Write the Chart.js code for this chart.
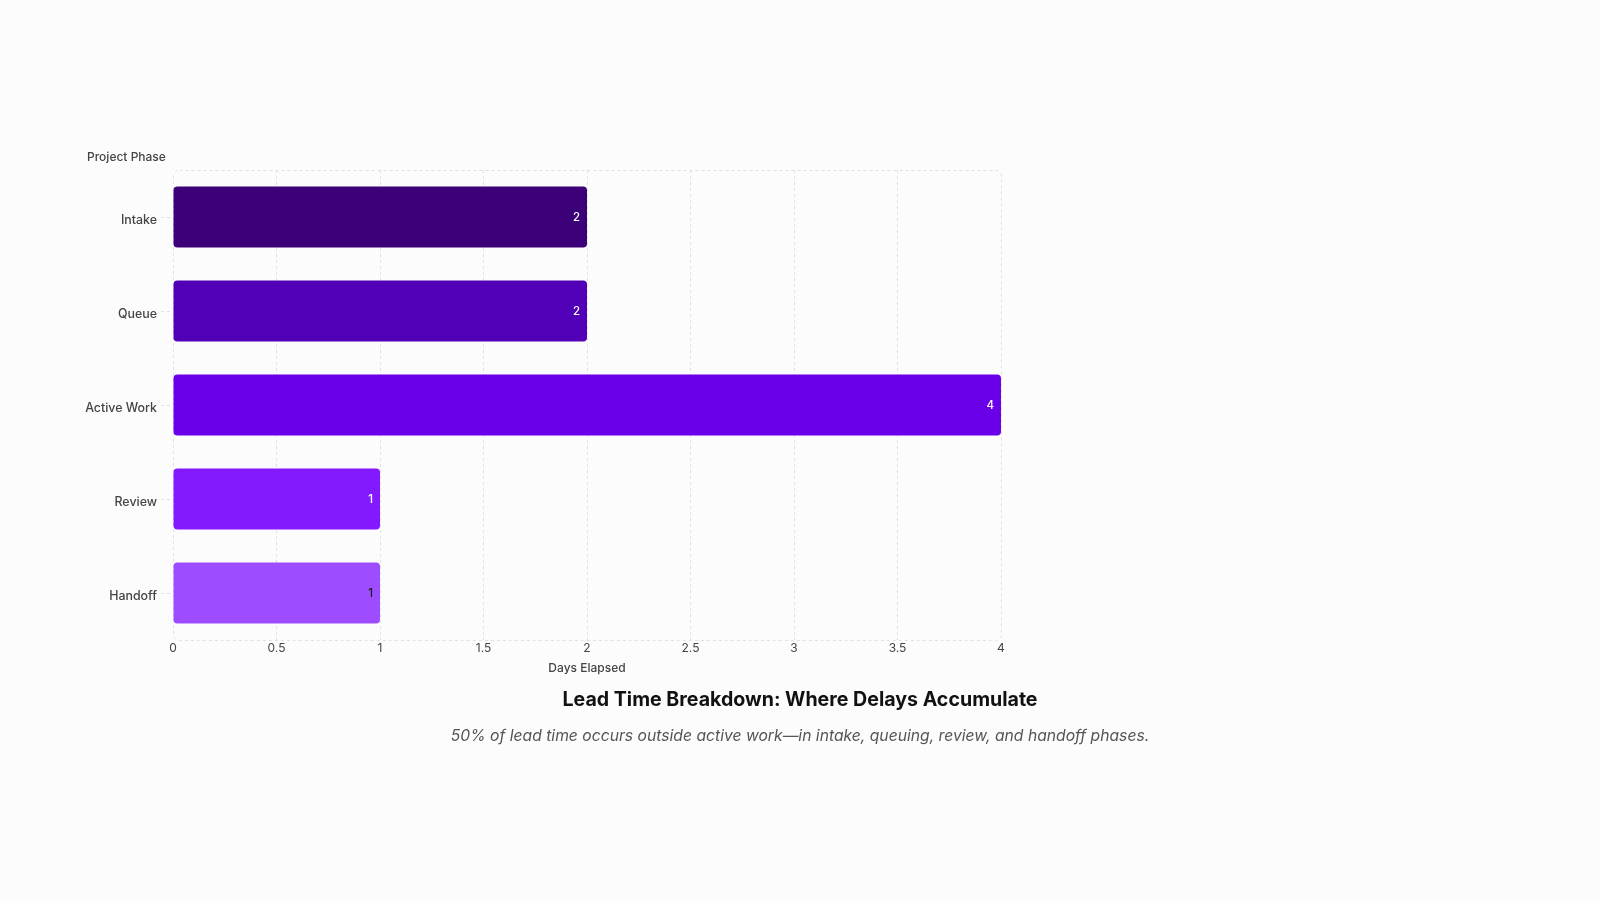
<!DOCTYPE html>
<html>
<head>
<meta charset="utf-8">
<script src="https://cdn.jsdelivr.net/npm/chart.js@4.4.1/dist/chart.umd.min.js"></script>
<style>
    html, body { margin: 0; padding: 0; background: #fcfcfc; }
    #wrap { position: relative; width: 1600px; height: 900px; }
    #leadChart { position: absolute; left: 0; top: 0; }
    .title {
        position: absolute; left: 0; width: 1600px; text-align: center;
        font-family: Inter, "Noto Sans", sans-serif; font-weight: 700;
        font-size: 19.6px; color: #111; top: 687px;
    }
    .subtitle {
        position: absolute; left: 0; width: 1600px; text-align: center;
        font-family: Inter, "Noto Sans", sans-serif; font-style: italic;
        font-size: 15.7px; color: #555; top: 726px;
    }
</style>
</head>
<body>
<div id="wrap">
    <canvas id="leadChart" width="1600" height="900"></canvas>
    <div class="title">Lead Time Breakdown: Where Delays Accumulate</div>
    <div class="subtitle">50% of lead time occurs outside active work—in intake, queuing, review, and handoff phases.</div>
</div>
<script>
// Phase durations
const phases = ['Intake', 'Queue', 'Active Work', 'Review', 'Handoff'];
const daysElapsed = [2, 2, 4, 1, 1];
const phaseColors = ['#3c0078', '#5200b8', '#6a00ea', '#8419ff', '#9d4dff'];
const labelColors = ['#ffffff', '#ffffff', '#ffffff', '#ffffff', '#1a1a1a'];

const FONT = 'Inter, "Noto Sans", sans-serif';
const GRID = '#e0e0e0';

// Dashed rounded frame around the plot area
const framePlugin = {
    id: 'frame',
    beforeDatasetsDraw(chart) {
        const { ctx, chartArea: a } = chart;
        ctx.save();
        ctx.strokeStyle = GRID;
        ctx.lineWidth = 1;
        ctx.setLineDash([3, 3]);
        ctx.beginPath();
        ctx.roundRect(a.left + 0.5, a.top + 0.5, a.right - a.left, a.bottom - a.top, 6);
        ctx.stroke();
        ctx.restore();
    }
};

// Value labels at bar ends + y axis caption
const labelPlugin = {
    id: 'barLabels',
    afterDatasetsDraw(chart) {
        const { ctx, chartArea: a } = chart;
        const meta = chart.getDatasetMeta(0);
        ctx.save();
        ctx.font = '500 11.5px ' + FONT;
        ctx.textAlign = 'right';
        ctx.textBaseline = 'middle';
        meta.data.forEach((bar, i) => {
            ctx.fillStyle = labelColors[i];
            ctx.fillText(daysElapsed[i], bar.x - 7, bar.y + 1);
        });
        ctx.font = '500 12px ' + FONT;
        ctx.fillStyle = '#444';
        ctx.textAlign = 'left';
        ctx.fillText('Project Phase', 87, a.top - 13);
        ctx.restore();
    }
};

new Chart(document.getElementById('leadChart'), {
    type: 'bar',
    data: {
        labels: phases,
        datasets: [{
            label: 'Days Elapsed',
            data: daysElapsed,
            backgroundColor: phaseColors,
            borderRadius: 4,
            borderSkipped: false,
            barPercentage: 0.65,
            categoryPercentage: 1
        }]
    },
    options: {
        indexAxis: 'y',
        responsive: false,
        animation: false,
        layout: {
            padding: { top: 170, right: 599, bottom: 224, left: 0 }
        },
        plugins: {
            legend: { display: false },
            tooltip: { enabled: false }
        },
        scales: {
            x: {
                min: 0,
                max: 4,
                ticks: {
                    stepSize: 0.5,
                    color: '#444',
                    padding: 1,
                    font: { family: FONT, size: 12 },
                    callback: (v) => String(v)
                },
                grid: {
                    color: (c) => (c.tick && (c.tick.value === 4 || c.tick.value === 0)) ? 'rgba(0,0,0,0)' : GRID,
                    drawTicks: false
                },
                border: { display: false, dash: [3, 3] },
                title: {
                    display: true,
                    text: 'Days Elapsed',
                    color: '#444',
                    padding: { top: 4, bottom: 0 },
                    font: { family: FONT, size: 12, weight: 500 }
                },
                afterFit(scale) { scale.height = 36; }
            },
            y: {
                ticks: {
                    color: '#444',
                    padding: 4,
                    labelOffset: 3,
                    font: { family: FONT, size: 12.4, weight: 500 }
                },
                grid: {
                    offset: false,
                    drawOnChartArea: false,
                    drawTicks: true,
                    tickLength: 12,
                    tickColor: GRID,
                    tickBorderDash: [3, 3]
                },
                border: { display: false },
                afterFit(scale) { scale.width = 173; }
            }
        }
    },
    plugins: [framePlugin, labelPlugin]
});
</script>
</body>
</html>
